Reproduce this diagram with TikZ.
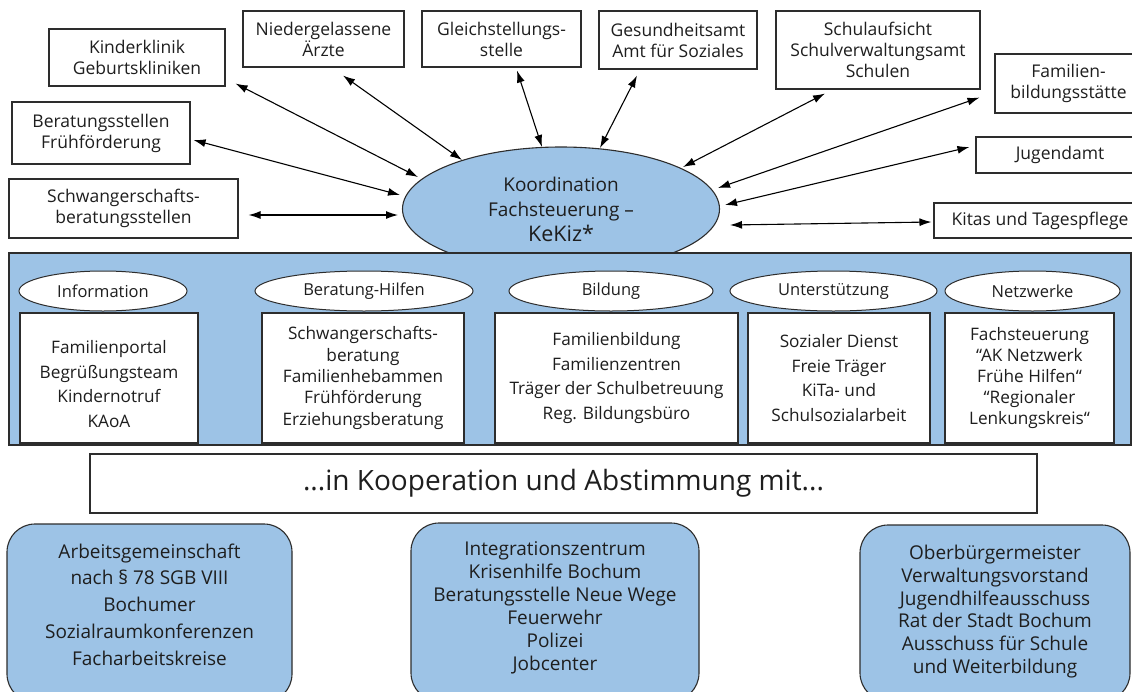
\documentclass[tikz,border=0pt]{standalone}
\usepackage{fontspec}
\setmainfont{Open Sans}
\usetikzlibrary{arrows.meta,shapes.geometric}
\definecolor{lblue}{RGB}{157,195,230}
\definecolor{edgec}{RGB}{45,45,45}
\definecolor{txtc}{RGB}{30,30,30}
\newcommand\myfs[2]{\fontsize{#1}{#2}\selectfont}
\tikzset{
  topbox/.style={draw=edgec,line width=1.1pt,fill=white,inner sep=0pt,align=center,text=txtc,font=\myfs{17.5}{21}},
  subell/.style={draw=edgec,line width=1pt,fill=white,ellipse,inner sep=0pt,minimum height=40pt,text=txtc,font=\myfs{16.5}{18}},
  subbox/.style={draw=edgec,line width=1.1pt,fill=white,inner sep=0pt,align=center,text=txtc,minimum height=130pt},
  boxtxt/.style={align=center,text=txtc,inner sep=0pt},
  botbox/.style={draw=edgec,line width=1.1pt,fill=lblue,rounded corners=28pt,inner sep=0pt},
  arr/.style={{Latex[length=12pt,width=8pt]}-{Latex[length=12pt,width=8pt]},line width=1.1pt,draw=black}
}
\begin{document}
\begin{tikzpicture}[x=1pt,y=-1pt]
\clip (0,0) rectangle (1132,691);
\fill[white] (0,0) rectangle (1132,691);

% top boxes
\node[topbox,minimum width=176pt,minimum height=57pt] (kk) at (137,57.5) {Kinderklinik\\Geburtskliniken};
\node[topbox,minimum width=161pt,minimum height=56pt] (nd) at (323.5,39) {Niedergelassene\\Ärzte};
\node[topbox,minimum width=159pt,minimum height=56pt] (gs) at (501.5,39) {Gleichstellungs-\\stelle};
\node[topbox,minimum width=158pt,minimum height=58pt] (ga) at (678,40) {Gesundheitsamt\\Amt für Soziales};
\node[topbox,minimum width=204pt,minimum height=78pt] (sa) at (878,50) {Schulaufsicht\\Schulverwaltungsamt\\Schulen};
\node[topbox,minimum width=147pt,minimum height=59pt] (fb) at (1068.5,83.5) {Familien-\\bildungsstätte};
\node[topbox,minimum width=168pt,minimum height=36pt] (ju) at (1060,155) {Jugendamt};
\node[topbox,minimum width=212pt,minimum height=35pt] (kt) at (1040,220.5) {Kitas und Tagespflege};
\node[topbox,minimum width=178pt,minimum height=62pt] (bf) at (101,133) {Beratungsstellen\\Frühförderung};
\node[topbox,minimum width=229pt,minimum height=59pt] (sb) at (123.5,208.5) {Schwangerschafts-\\beratungsstellen};

% central ellipse
\node[draw=edgec,line width=1.1pt,fill=lblue,ellipse,minimum width=317pt,minimum height=124pt,inner sep=0pt,align=center,text=txtc,font=\myfs{19}{25}] (ell) at (561,209) {Koordination\\Fachsteuerung –\\{\myfs{21.5}{25}KeKiz*}};

% arrows
\draw[arr] ([xshift=10pt,yshift=3pt]kk.south east) -- ([xshift=-143pt,yshift=32pt]ell.center);
\draw[arr] ([xshift=19.5pt,yshift=-8pt]nd.south) -- ([xshift=-99pt,yshift=49pt]ell.center);
\draw[arr] ([xshift=15.5pt,yshift=-3pt]gs.south) -- ([xshift=-19pt,yshift=62pt]ell.center);
\draw[arr] ([xshift=-41pt,yshift=-6pt]ga.south) -- ([xshift=39pt,yshift=61pt]ell.center);
\draw[arr] ([xshift=-53pt,yshift=-4pt]sa.south) -- ([xshift=122pt,yshift=42pt]ell.center);
\draw[arr] ([xshift=-15pt,yshift=16pt]fb.south west) -- ([xshift=157pt,yshift=21pt]ell.center);
\draw[arr] ([xshift=-6pt,yshift=8pt]ju.west) -- ([xshift=164pt,yshift=4pt]ell.center);
\draw[arr] ([xshift=-2pt,yshift=-1.5pt]kt.west) -- ([xshift=169pt,yshift=-16pt]ell.center);
\draw[arr] ([xshift=3pt,yshift=-7pt]bf.east) -- ([xshift=-161pt,yshift=14pt]ell.center);
\draw[arr] ([xshift=10pt,yshift=-6.5pt]sb.east) -- ([xshift=-163pt,yshift=-6pt]ell.center);

% band
\node[draw=edgec,line width=1.2pt,fill=lblue,minimum width=1122pt,minimum height=192pt,inner sep=0pt] (band) at (570,349) {};

\node[subell,minimum width=168pt] (e1) at (103,291) {Information};
\node[subell,minimum width=218pt] (e2) at (364,291) {Beratung-Hilfen};
\node[subell,minimum width=204pt] (e3) at (611,291) {Bildung};
\node[subell,minimum width=207pt] (e4) at (833.5,291) {Unterstützung};
\node[subell,minimum width=175pt] (e5) at (1032.5,291) {Netzwerke};

\node[subbox,minimum width=178pt] (s1) at (109,378) {};
\node[boxtxt,font=\myfs{17.2}{24.5}] (s1t) at (109,384) {Familienportal\\Begrüßungsteam\\Kindernotruf\\KAoA};
\node[subbox,minimum width=202pt,font=\myfs{17.2}{21.3}] (s2) at (363,378) {Schwangerschafts-\\beratung\\Familienhebammen\\Frühförderung\\Erziehungsberatung};
\node[subbox,minimum width=243pt,font=\myfs{17.2}{24.5}] (s3) at (616.5,378) {Familienbildung\\Familienzentren\\Träger der Schulbetreuung\\Reg. Bildungsbüro};
\node[subbox,minimum width=182pt,font=\myfs{17.2}{24.5}] (s4) at (839,378) {Sozialer Dienst\\Freie Träger\\KiTa- und\\Schulsozialarbeit};
\node[subbox,minimum width=169pt,font=\myfs{17.2}{21.2}] (s5) at (1029.5,378) {Fachsteuerung\\“AK Netzwerk\\Frühe Hilfen“\\“Regionaler\\Lenkungskreis“};

% cooperation
\node[draw=edgec,line width=1.1pt,fill=white,minimum width=947pt,minimum height=59pt,inner sep=0pt,text=txtc,font=\myfs{28}{32}] (koop) at (563.5,483.5) {...in Kooperation und Abstimmung mit...};

% bottom boxes
\node[botbox,minimum width=285pt,minimum height=178pt] (b1) at (149.5,613) {};
\node[boxtxt,font=\myfs{19}{26.7}] (t1) at (149.5,604.5) {Arbeitsgemeinschaft\\nach § 78 SGB VIII\\Bochumer\\Sozialraumkonferenzen\\Facharbeitskreise};
\node[botbox,minimum width=288pt,minimum height=178pt] (b2) at (555,612) {};
\node[boxtxt,font=\myfs{19}{23}] (t2) at (555,607.5) {Integrationszentrum\\Krisenhilfe Bochum\\Beratungsstelle Neue Wege\\Feuerwehr\\Polizei\\Jobcenter};
\node[botbox,minimum width=270pt,minimum height=176pt] (b3) at (995,613) {};
\node[boxtxt,font=\myfs{19}{22.7}] (t3) at (995,611.5) {Oberbürgermeister\\Verwaltungsvorstand\\Jugendhilfeausschuss\\Rat der Stadt Bochum\\Ausschuss für Schule\\und Weiterbildung};
\end{tikzpicture}
\end{document}
